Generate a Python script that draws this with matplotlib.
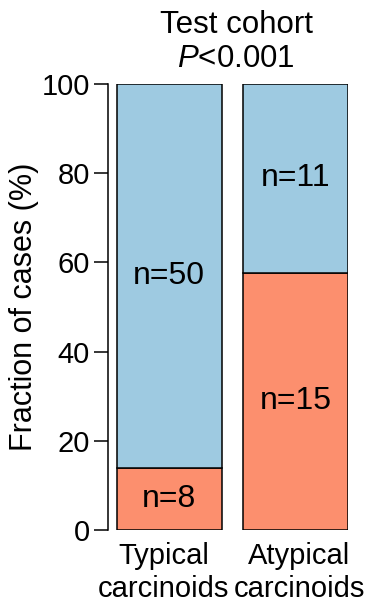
import matplotlib.pyplot as plt

plt.rcParams['font.family'] = ['Liberation Sans', 'DejaVu Sans']
plt.rcParams['mathtext.fontset'] = 'custom'
plt.rcParams['mathtext.rm'] = 'Liberation Sans'
plt.rcParams['mathtext.it'] = 'Liberation Sans:italic'

groups = ["Typical\ncarcinoids", "Atypical\ncarcinoids"]
n_red = [8, 15]
n_blue = [50, 11]
yticks = [0, 20, 40, 60, 80, 100]

red = '#FC8F6E'
blue = '#9ECAE1'

totals = [r + b for r, b in zip(n_red, n_blue)]
pct_red = [100 * r / t for r, t in zip(n_red, totals)]
pct_blue = [100 * b / t for b, t in zip(n_blue, totals)]

fig = plt.figure(figsize=(3.65, 6.15), dpi=100)
ax = fig.add_axes([108 / 365, 85 / 615, 240 / 365, 446 / 615])

x = [0, 1]
w = 105 / 127
ax.bar(x, pct_red, width=w, color=red, edgecolor='black', linewidth=1.1)
ax.bar(x, pct_blue, width=w, bottom=pct_red, color=blue, edgecolor='black', linewidth=1.1)

for i in x:
    ax.text(i, pct_red[i] / 2, f"n={n_red[i]}", ha='center', va='center', fontsize=23)
    ax.text(i, pct_red[i] + pct_blue[i] / 2, f"n={n_blue[i]}", ha='center', va='center', fontsize=23)

ax.set_xlim(-w / 2 - 9 / 127, 1 + w / 2)
ax.set_ylim(0, 100)
ax.set_yticks(yticks)
ax.tick_params(axis='y', labelsize=21, length=10, width=1.1, pad=3)
# group labels sit slightly apart from the bar centres
ax.set_xticks([-0.045, 1.03])
ax.set_xticklabels(groups, fontsize=21, linespacing=1.2)
ax.tick_params(axis='x', length=0, pad=9)
for s in ['top', 'right', 'bottom']:
    ax.spines[s].set_visible(False)
ax.spines['left'].set_linewidth(1.1)
ax.set_ylabel("Fraction of cases (%)", fontsize=22, labelpad=2)

fig.text(236 / 365, 1 - 42 / 615, "Test cohort\n$\\mathit{P}$<0.001", ha='center', va='center',
         fontsize=22.5, linespacing=1.2)

fig.savefig('out.png', dpi=100)
